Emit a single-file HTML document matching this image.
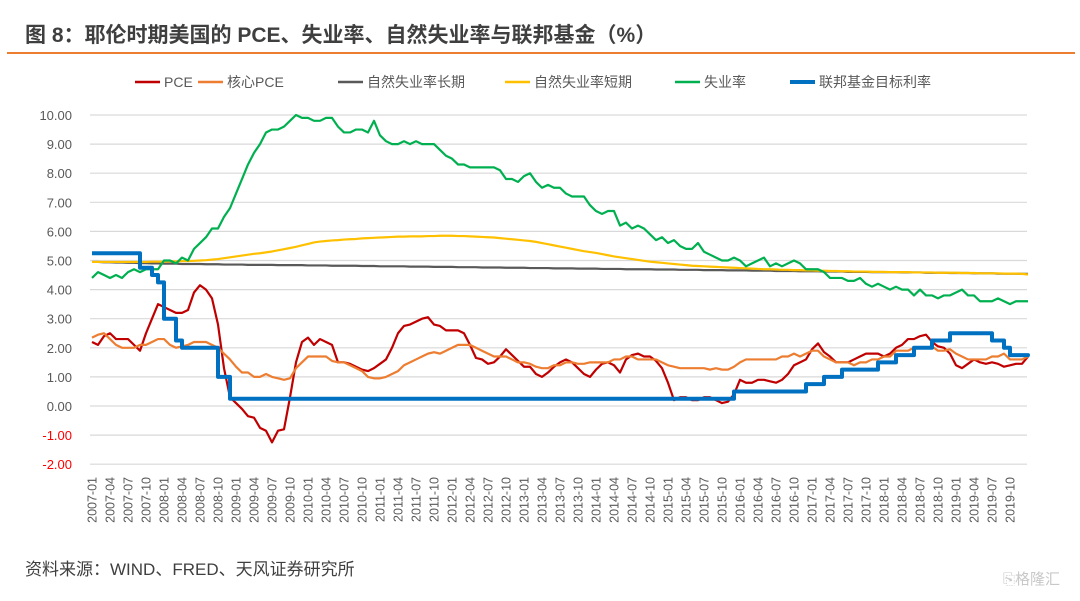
<!DOCTYPE html>
<html><head><meta charset="utf-8"><style>
body{margin:0;background:#fff;width:1080px;height:596px;overflow:hidden;font-family:"Liberation Sans","Noto Sans CJK SC",sans-serif}
</style></head><body>
<svg id="c" width="1080" height="596" xmlns="http://www.w3.org/2000/svg">
<text x="25" y="42" font-size="21" font-weight="bold" fill="#3f3f3f" font-family="'Liberation Sans','Noto Sans CJK SC',sans-serif">图 8：耶伦时期美国的 PCE、失业率、自然失业率与联邦基金（%）</text>
<line x1="7" y1="53" x2="1075" y2="53" stroke="#ed7d31" stroke-width="2"/>
<text x="25" y="575" font-size="17" fill="#3f3f3f" font-family="'Liberation Sans','Noto Sans CJK SC',sans-serif">资料来源：WIND、FRED、天风证券研究所</text>
<text x="1003" y="584" font-size="15" fill="#c8c8c8" font-family="'Liberation Sans','Noto Sans CJK SC',sans-serif">⎘格隆汇</text>
<g id="grid"></g><g id="axes"></g><g id="series"></g><g id="legend"></g>
</svg>
<script>
const yTicks=[10,9,8,7,6,5,4,3,2,1,0,-1,-2];
const seriesNames=["PCE","核心PCE","自然失业率长期","自然失业率短期","失业率","联邦基金目标利率"];
const pce=[2.2,2.1,2.4,2.5,2.3,2.3,2.3,2.1,1.9,2.5,3.0,3.5,
3.4,3.3,3.2,3.2,3.3,3.9,4.15,4.0,3.7,2.8,1.3,0.3,
0.1,-0.1,-0.35,-0.4,-0.75,-0.85,-1.25,-0.85,-0.8,0.3,1.5,2.2,
2.35,2.1,2.3,2.2,2.1,1.5,1.5,1.45,1.35,1.25,1.2,1.3,
1.45,1.6,2.0,2.5,2.75,2.8,2.9,3.0,3.05,2.8,2.75,2.6,
2.6,2.6,2.5,2.1,1.65,1.6,1.45,1.5,1.7,1.95,1.75,1.55,
1.35,1.35,1.1,1.0,1.15,1.35,1.5,1.6,1.5,1.3,1.1,1.0,
1.25,1.45,1.5,1.4,1.15,1.6,1.75,1.8,1.7,1.7,1.55,1.3,
0.8,0.2,0.3,0.3,0.2,0.2,0.3,0.3,0.2,0.1,0.15,0.4,
0.9,0.8,0.8,0.9,0.9,0.85,0.8,0.9,1.1,1.4,1.5,1.6,
1.95,2.15,1.85,1.7,1.5,1.5,1.5,1.6,1.7,1.8,1.8,1.8,
1.7,1.8,2.0,2.1,2.3,2.3,2.4,2.45,2.2,2.05,2.0,1.8,
1.4,1.3,1.45,1.6,1.5,1.45,1.5,1.45,1.35,1.4,1.45,1.45,1.7];
const corePce=[2.35,2.45,2.5,2.3,2.1,2.0,2.0,2.0,2.1,2.1,2.2,2.3,
2.3,2.1,2.0,2.05,2.1,2.2,2.2,2.2,2.1,2.0,1.8,1.6,
1.35,1.15,1.15,1.0,1.0,1.1,1.0,0.95,0.9,0.95,1.3,1.5,
1.7,1.7,1.7,1.7,1.55,1.5,1.5,1.4,1.3,1.2,1.0,0.95,
0.95,1.0,1.1,1.2,1.4,1.5,1.6,1.7,1.8,1.85,1.8,1.9,
2.0,2.1,2.1,2.1,2.0,1.9,1.8,1.7,1.7,1.7,1.6,1.5,
1.5,1.45,1.35,1.3,1.3,1.4,1.4,1.5,1.5,1.45,1.45,1.5,
1.5,1.5,1.5,1.6,1.6,1.7,1.7,1.6,1.6,1.6,1.6,1.5,
1.4,1.35,1.3,1.3,1.3,1.3,1.3,1.25,1.3,1.25,1.25,1.35,
1.5,1.6,1.6,1.6,1.6,1.6,1.6,1.7,1.7,1.8,1.7,1.8,
1.9,1.9,1.7,1.6,1.5,1.5,1.5,1.4,1.5,1.5,1.6,1.6,
1.7,1.7,1.9,1.9,1.9,2.0,2.0,2.0,2.05,1.9,1.9,1.95,
1.8,1.7,1.6,1.6,1.6,1.6,1.7,1.7,1.8,1.6,1.6,1.6,1.7];
const natLong=[4.95,4.95,4.94,4.94,4.93,4.93,4.92,4.92,4.91,4.91,4.9,4.9,
4.89,4.89,4.89,4.88,4.88,4.88,4.88,4.87,4.87,4.87,4.86,4.86,
4.86,4.86,4.85,4.85,4.85,4.85,4.85,4.84,4.84,4.84,4.84,4.84,
4.83,4.83,4.83,4.83,4.82,4.82,4.82,4.82,4.82,4.81,4.81,4.81,
4.8,4.8,4.8,4.8,4.8,4.79,4.79,4.79,4.79,4.78,4.78,4.78,
4.78,4.77,4.77,4.77,4.77,4.76,4.76,4.76,4.76,4.75,4.75,4.75,
4.75,4.74,4.74,4.74,4.74,4.73,4.73,4.73,4.73,4.72,4.72,4.72,
4.72,4.71,4.71,4.71,4.71,4.7,4.7,4.7,4.7,4.7,4.69,4.69,
4.69,4.69,4.68,4.68,4.68,4.68,4.67,4.67,4.67,4.67,4.66,4.66,
4.66,4.66,4.65,4.65,4.65,4.65,4.64,4.64,4.64,4.64,4.63,4.63,
4.63,4.63,4.62,4.62,4.62,4.62,4.61,4.61,4.61,4.61,4.6,4.6,
4.6,4.6,4.6,4.59,4.59,4.59,4.59,4.58,4.58,4.58,4.58,4.57,
4.57,4.57,4.57,4.56,4.56,4.56,4.56,4.55,4.55,4.55,4.55,4.54,4.54];
const natShort=[4.95,4.95,4.95,4.95,4.95,4.95,4.95,4.95,4.95,4.95,4.96,4.96,
4.96,4.97,4.97,4.98,4.98,4.99,5.0,5.01,5.03,5.05,5.08,5.11,
5.14,5.17,5.2,5.23,5.25,5.28,5.31,5.35,5.39,5.43,5.47,5.52,
5.57,5.62,5.65,5.67,5.69,5.7,5.72,5.73,5.74,5.76,5.77,5.78,
5.79,5.8,5.81,5.82,5.82,5.83,5.83,5.83,5.84,5.84,5.85,5.85,
5.85,5.84,5.84,5.83,5.82,5.81,5.8,5.79,5.77,5.75,5.73,5.71,
5.69,5.67,5.64,5.6,5.56,5.52,5.48,5.44,5.4,5.36,5.32,5.29,
5.26,5.22,5.18,5.14,5.11,5.08,5.05,5.02,4.99,4.96,4.94,4.92,
4.9,4.88,4.86,4.84,4.82,4.81,4.8,4.79,4.78,4.77,4.76,4.75,
4.74,4.73,4.72,4.71,4.7,4.7,4.69,4.68,4.68,4.67,4.67,4.66,
4.66,4.65,4.65,4.64,4.64,4.63,4.63,4.62,4.62,4.62,4.61,4.61,
4.61,4.6,4.6,4.6,4.6,4.59,4.59,4.59,4.59,4.58,4.58,4.58,
4.58,4.57,4.57,4.57,4.56,4.56,4.56,4.56,4.55,4.55,4.55,4.54,4.52];
const unrate=[4.4,4.6,4.5,4.4,4.5,4.4,4.6,4.7,4.6,4.7,4.7,4.7,
5.0,5.0,4.9,5.1,5.0,5.4,5.6,5.8,6.1,6.1,6.5,6.8,
7.3,7.8,8.3,8.7,9.0,9.4,9.5,9.5,9.6,9.8,10.0,9.9,
9.9,9.8,9.8,9.9,9.9,9.6,9.4,9.4,9.5,9.5,9.4,9.8,
9.3,9.1,9.0,9.0,9.1,9.0,9.1,9.0,9.0,9.0,8.8,8.6,
8.5,8.3,8.3,8.2,8.2,8.2,8.2,8.2,8.1,7.8,7.8,7.7,
7.9,8.0,7.7,7.5,7.6,7.5,7.5,7.3,7.2,7.2,7.2,6.9,
6.7,6.6,6.7,6.7,6.2,6.3,6.1,6.2,6.1,5.9,5.7,5.8,
5.6,5.7,5.5,5.4,5.4,5.6,5.3,5.2,5.1,5.0,5.0,5.1,
5.0,4.8,4.9,5.0,5.1,4.8,4.9,4.8,4.9,5.0,4.9,4.7,
4.7,4.7,4.6,4.4,4.4,4.4,4.3,4.3,4.4,4.2,4.1,4.2,
4.1,4.0,4.1,4.0,4.0,3.8,4.0,3.8,3.8,3.7,3.8,3.8,
3.9,4.0,3.8,3.8,3.6,3.6,3.6,3.7,3.6,3.5,3.6,3.6,3.6];
const fedFunds=[5.25,5.25,5.25,5.25,5.25,5.25,5.25,5.25,4.75,4.75,4.5,4.25,
3.0,3.0,2.25,2.0,2.0,2.0,2.0,2.0,2.0,1.0,1.0,0.25,
0.25,0.25,0.25,0.25,0.25,0.25,0.25,0.25,0.25,0.25,0.25,0.25,
0.25,0.25,0.25,0.25,0.25,0.25,0.25,0.25,0.25,0.25,0.25,0.25,
0.25,0.25,0.25,0.25,0.25,0.25,0.25,0.25,0.25,0.25,0.25,0.25,
0.25,0.25,0.25,0.25,0.25,0.25,0.25,0.25,0.25,0.25,0.25,0.25,
0.25,0.25,0.25,0.25,0.25,0.25,0.25,0.25,0.25,0.25,0.25,0.25,
0.25,0.25,0.25,0.25,0.25,0.25,0.25,0.25,0.25,0.25,0.25,0.25,
0.25,0.25,0.25,0.25,0.25,0.25,0.25,0.25,0.25,0.25,0.25,0.5,
0.5,0.5,0.5,0.5,0.5,0.5,0.5,0.5,0.5,0.5,0.5,0.75,
0.75,0.75,1.0,1.0,1.0,1.25,1.25,1.25,1.25,1.25,1.25,1.5,
1.5,1.5,1.75,1.75,1.75,2.0,2.0,2.0,2.25,2.25,2.25,2.5,
2.5,2.5,2.5,2.5,2.5,2.5,2.25,2.25,2.0,1.75,1.75,1.75,1.75];
const colors=["#c00000","#ed7d31","#595959","#ffc000","#00b050","#0070c0"];
const widths=[2.2,2.2,2.2,2.2,2.2,4];
const X0=92,DX=6.0,Y0=406,DY=29.1,GL=90,GR=1027;
const NS="http://www.w3.org/2000/svg";
function xs(i){return X0+i*DX}
function ys(v){return Y0-v*DY}
function mk(tag,attrs,parent){const e=document.createElementNS(NS,tag);for(const k in attrs)e.setAttribute(k,attrs[k]);parent.appendChild(e);return e}
const grid=document.getElementById('grid'),axes=document.getElementById('axes'),ser=document.getElementById('series'),leg=document.getElementById('legend');
yTicks.forEach(v=>{
 const l=mk('line',{x1:GL,x2:GR,y1:ys(v),y2:ys(v),stroke:'#d9d9d9','stroke-width':1.2},grid);
 
 
 const t=mk('text',{x:72,y:ys(v)+5,'text-anchor':'end','font-size':13,fill:v<0?'#ff0000':'#595959'},axes);
 t.textContent=v.toFixed(2);
 
 
});
for(let i=0;i<pce.length-1;i+=3){
 const y=2007+Math.floor(i/12),m=i%12+1;
 const t=mk('text',{x:0,y:0,'text-anchor':'end','font-size':12.5,fill:'#595959',transform:`translate(${xs(i)+4.5},477) rotate(-90)`},axes);
 t.textContent=y+'-'+String(m).padStart(2,'0');
 
 
}
const data=[pce,corePce,natLong,natShort,unrate,fedFunds];
data.forEach((arr,s)=>{
 let d='';
 if(s===5){arr.forEach((v,i)=>{d+=(i?`H${xs(i)}V${ys(v)}`:`M${xs(i)},${ys(v)}`)});d+=`H${GR}`;}
 else arr.forEach((v,i)=>{d+=(i?'L':'M')+xs(i)+','+ys(v)});
 const p=mk('path',{d:d,fill:'none',stroke:colors[s],'stroke-width':widths[s],'stroke-linejoin':'round'},ser);
 
 
});
const legX=[135,198,338,505,675,790];
seriesNames.forEach((n,s)=>{
 const l=mk('line',{x1:legX[s],x2:legX[s]+25,y1:82,y2:82,stroke:colors[s],'stroke-width':s===5?4:2.5},leg);
 
 
 const t=mk('text',{x:legX[s]+29,y:87,'font-size':14,fill:'#595959'},leg);
 t.textContent=n;
 
 
});
</script>
</body></html>
